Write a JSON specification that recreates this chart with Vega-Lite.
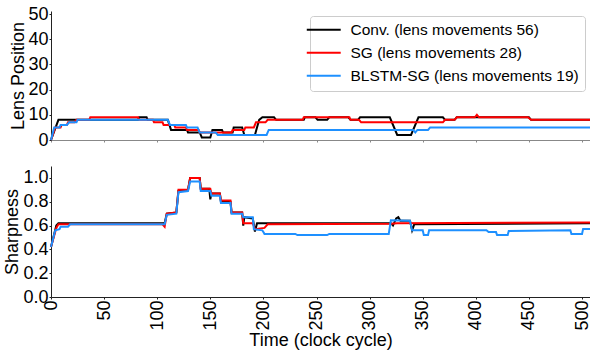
{
  "$schema": "https://vega.github.io/schema/vega-lite/v6.json",
  "padding": {"left": 3, "top": 5, "right": 0, "bottom": 0},
  "autosize": {"type": "pad"},
  "spacing": 26,
  "bounds": "flush",
  "config": {
    "view": {"stroke": null},
    "font": "Liberation Sans",
    "axis": {
      "grid": false,
      "labelFont": "Liberation Sans",
      "titleFont": "Liberation Sans",
      "labelFontSize": 18,
      "titleFontSize": 18,
      "titleFontWeight": "normal",
      "labelColor": "#000000",
      "titleColor": "#000000",
      "domainColor": "#222222",
      "tickColor": "#222222",
      "tickSize": 2,
      "labelPadding": 1
    }
  },
  "datasets": {
    "lens": [
      {"s": "Conv.", "t": 0, "v": 0}, {"s": "Conv.", "t": 7, "v": 8}, {"s": "Conv.", "t": 82, "v": 8}, {"s": "Conv.", "t": 83, "v": 9}, {"s": "Conv.", "t": 90, "v": 9}, {"s": "Conv.", "t": 91, "v": 8}, {"s": "Conv.", "t": 110, "v": 8}, {"s": "Conv.", "t": 113, "v": 4}, {"s": "Conv.", "t": 128, "v": 4}, {"s": "Conv.", "t": 129, "v": 3}, {"s": "Conv.", "t": 140, "v": 3}, {"s": "Conv.", "t": 142, "v": 1}, {"s": "Conv.", "t": 150, "v": 1}, {"s": "Conv.", "t": 152, "v": 4}, {"s": "Conv.", "t": 161, "v": 4}, {"s": "Conv.", "t": 162, "v": 3}, {"s": "Conv.", "t": 171, "v": 3}, {"s": "Conv.", "t": 172, "v": 5}, {"s": "Conv.", "t": 180, "v": 5}, {"s": "Conv.", "t": 182, "v": 2}, {"s": "Conv.", "t": 192, "v": 2}, {"s": "Conv.", "t": 196, "v": 8}, {"s": "Conv.", "t": 199, "v": 9}, {"s": "Conv.", "t": 210, "v": 9}, {"s": "Conv.", "t": 212, "v": 8}, {"s": "Conv.", "t": 238, "v": 8}, {"s": "Conv.", "t": 239, "v": 9}, {"s": "Conv.", "t": 249, "v": 9}, {"s": "Conv.", "t": 251, "v": 8}, {"s": "Conv.", "t": 260, "v": 8}, {"s": "Conv.", "t": 262, "v": 9}, {"s": "Conv.", "t": 280, "v": 9}, {"s": "Conv.", "t": 282, "v": 8}, {"s": "Conv.", "t": 289, "v": 8}, {"s": "Conv.", "t": 291, "v": 9}, {"s": "Conv.", "t": 319, "v": 9}, {"s": "Conv.", "t": 326, "v": 2}, {"s": "Conv.", "t": 339, "v": 2}, {"s": "Conv.", "t": 346, "v": 9}, {"s": "Conv.", "t": 369, "v": 9}, {"s": "Conv.", "t": 371, "v": 8}, {"s": "Conv.", "t": 380, "v": 8}, {"s": "Conv.", "t": 382, "v": 9}, {"s": "Conv.", "t": 450, "v": 9}, {"s": "Conv.", "t": 452, "v": 8}, {"s": "Conv.", "t": 507.5, "v": 8},
      {"s": "SG", "t": 0, "v": 0}, {"s": "SG", "t": 4, "v": 5}, {"s": "SG", "t": 9, "v": 5}, {"s": "SG", "t": 10, "v": 6}, {"s": "SG", "t": 15, "v": 6}, {"s": "SG", "t": 16, "v": 7}, {"s": "SG", "t": 22, "v": 7}, {"s": "SG", "t": 24, "v": 8}, {"s": "SG", "t": 36, "v": 8}, {"s": "SG", "t": 37, "v": 9}, {"s": "SG", "t": 82, "v": 9}, {"s": "SG", "t": 83, "v": 8}, {"s": "SG", "t": 96, "v": 8}, {"s": "SG", "t": 97, "v": 7}, {"s": "SG", "t": 105, "v": 7}, {"s": "SG", "t": 106, "v": 6}, {"s": "SG", "t": 116, "v": 6}, {"s": "SG", "t": 117, "v": 5}, {"s": "SG", "t": 127, "v": 5}, {"s": "SG", "t": 128, "v": 4}, {"s": "SG", "t": 139, "v": 4}, {"s": "SG", "t": 140, "v": 3}, {"s": "SG", "t": 170, "v": 3}, {"s": "SG", "t": 171, "v": 4}, {"s": "SG", "t": 182, "v": 4}, {"s": "SG", "t": 183, "v": 5}, {"s": "SG", "t": 191, "v": 5}, {"s": "SG", "t": 193, "v": 7}, {"s": "SG", "t": 202, "v": 7}, {"s": "SG", "t": 204, "v": 8}, {"s": "SG", "t": 237, "v": 8}, {"s": "SG", "t": 238, "v": 9}, {"s": "SG", "t": 281, "v": 9}, {"s": "SG", "t": 282, "v": 8}, {"s": "SG", "t": 290, "v": 8}, {"s": "SG", "t": 292, "v": 7}, {"s": "SG", "t": 369, "v": 7}, {"s": "SG", "t": 371, "v": 8}, {"s": "SG", "t": 380, "v": 8}, {"s": "SG", "t": 382, "v": 9}, {"s": "SG", "t": 399, "v": 9}, {"s": "SG", "t": 401, "v": 10}, {"s": "SG", "t": 403, "v": 9}, {"s": "SG", "t": 449, "v": 9}, {"s": "SG", "t": 452, "v": 8}, {"s": "SG", "t": 507.5, "v": 8},
      {"s": "BLSTM-SG", "t": 0, "v": 0}, {"s": "BLSTM-SG", "t": 3, "v": 5}, {"s": "BLSTM-SG", "t": 8, "v": 5}, {"s": "BLSTM-SG", "t": 9, "v": 6}, {"s": "BLSTM-SG", "t": 15, "v": 6}, {"s": "BLSTM-SG", "t": 17, "v": 7}, {"s": "BLSTM-SG", "t": 24, "v": 7}, {"s": "BLSTM-SG", "t": 25, "v": 8}, {"s": "BLSTM-SG", "t": 110, "v": 8}, {"s": "BLSTM-SG", "t": 112, "v": 6}, {"s": "BLSTM-SG", "t": 127, "v": 6}, {"s": "BLSTM-SG", "t": 128, "v": 5}, {"s": "BLSTM-SG", "t": 138, "v": 5}, {"s": "BLSTM-SG", "t": 140, "v": 3}, {"s": "BLSTM-SG", "t": 155, "v": 3}, {"s": "BLSTM-SG", "t": 157, "v": 2}, {"s": "BLSTM-SG", "t": 203, "v": 2}, {"s": "BLSTM-SG", "t": 205, "v": 4}, {"s": "BLSTM-SG", "t": 341, "v": 4}, {"s": "BLSTM-SG", "t": 343, "v": 3}, {"s": "BLSTM-SG", "t": 345, "v": 4}, {"s": "BLSTM-SG", "t": 355, "v": 4}, {"s": "BLSTM-SG", "t": 357, "v": 5}, {"s": "BLSTM-SG", "t": 507.5, "v": 5}
    ],
    "sharp": [
      {"s": "Conv.", "t": 0, "v": 0.42}, {"s": "Conv.", "t": 5, "v": 0.6}, {"s": "Conv.", "t": 7, "v": 0.62}, {"s": "Conv.", "t": 107, "v": 0.62}, {"s": "Conv.", "t": 109, "v": 0.7}, {"s": "Conv.", "t": 118, "v": 0.71}, {"s": "Conv.", "t": 120, "v": 0.89}, {"s": "Conv.", "t": 129, "v": 0.9}, {"s": "Conv.", "t": 131, "v": 1.0}, {"s": "Conv.", "t": 140, "v": 1.0}, {"s": "Conv.", "t": 141, "v": 0.91}, {"s": "Conv.", "t": 149, "v": 0.91}, {"s": "Conv.", "t": 150, "v": 0.82}, {"s": "Conv.", "t": 151, "v": 0.87}, {"s": "Conv.", "t": 159, "v": 0.87}, {"s": "Conv.", "t": 160, "v": 0.8}, {"s": "Conv.", "t": 169, "v": 0.8}, {"s": "Conv.", "t": 170, "v": 0.71}, {"s": "Conv.", "t": 180, "v": 0.71}, {"s": "Conv.", "t": 181, "v": 0.6}, {"s": "Conv.", "t": 182, "v": 0.67}, {"s": "Conv.", "t": 190, "v": 0.66}, {"s": "Conv.", "t": 192, "v": 0.55}, {"s": "Conv.", "t": 194, "v": 0.62}, {"s": "Conv.", "t": 320, "v": 0.62}, {"s": "Conv.", "t": 322, "v": 0.6}, {"s": "Conv.", "t": 325, "v": 0.66}, {"s": "Conv.", "t": 327, "v": 0.67}, {"s": "Conv.", "t": 329, "v": 0.64}, {"s": "Conv.", "t": 338, "v": 0.64}, {"s": "Conv.", "t": 340, "v": 0.56}, {"s": "Conv.", "t": 342, "v": 0.61}, {"s": "Conv.", "t": 507.5, "v": 0.62},
      {"s": "SG", "t": 0, "v": 0.42}, {"s": "SG", "t": 5, "v": 0.58}, {"s": "SG", "t": 7, "v": 0.61}, {"s": "SG", "t": 105, "v": 0.61}, {"s": "SG", "t": 107, "v": 0.59}, {"s": "SG", "t": 109, "v": 0.7}, {"s": "SG", "t": 118, "v": 0.71}, {"s": "SG", "t": 120, "v": 0.9}, {"s": "SG", "t": 129, "v": 0.9}, {"s": "SG", "t": 131, "v": 1.0}, {"s": "SG", "t": 140, "v": 1.0}, {"s": "SG", "t": 141, "v": 0.91}, {"s": "SG", "t": 150, "v": 0.91}, {"s": "SG", "t": 151, "v": 0.87}, {"s": "SG", "t": 159, "v": 0.87}, {"s": "SG", "t": 160, "v": 0.81}, {"s": "SG", "t": 169, "v": 0.81}, {"s": "SG", "t": 170, "v": 0.71}, {"s": "SG", "t": 180, "v": 0.71}, {"s": "SG", "t": 181, "v": 0.62}, {"s": "SG", "t": 190, "v": 0.62}, {"s": "SG", "t": 192, "v": 0.57}, {"s": "SG", "t": 201, "v": 0.58}, {"s": "SG", "t": 204, "v": 0.61}, {"s": "SG", "t": 320, "v": 0.615}, {"s": "SG", "t": 326, "v": 0.62}, {"s": "SG", "t": 507.5, "v": 0.625},
      {"s": "BLSTM-SG", "t": 0, "v": 0.42}, {"s": "BLSTM-SG", "t": 4, "v": 0.56}, {"s": "BLSTM-SG", "t": 8, "v": 0.57}, {"s": "BLSTM-SG", "t": 9, "v": 0.59}, {"s": "BLSTM-SG", "t": 16, "v": 0.59}, {"s": "BLSTM-SG", "t": 18, "v": 0.61}, {"s": "BLSTM-SG", "t": 107, "v": 0.61}, {"s": "BLSTM-SG", "t": 109, "v": 0.69}, {"s": "BLSTM-SG", "t": 118, "v": 0.7}, {"s": "BLSTM-SG", "t": 120, "v": 0.88}, {"s": "BLSTM-SG", "t": 129, "v": 0.89}, {"s": "BLSTM-SG", "t": 131, "v": 0.97}, {"s": "BLSTM-SG", "t": 140, "v": 0.97}, {"s": "BLSTM-SG", "t": 141, "v": 0.89}, {"s": "BLSTM-SG", "t": 150, "v": 0.89}, {"s": "BLSTM-SG", "t": 151, "v": 0.85}, {"s": "BLSTM-SG", "t": 159, "v": 0.85}, {"s": "BLSTM-SG", "t": 160, "v": 0.79}, {"s": "BLSTM-SG", "t": 169, "v": 0.79}, {"s": "BLSTM-SG", "t": 170, "v": 0.7}, {"s": "BLSTM-SG", "t": 180, "v": 0.7}, {"s": "BLSTM-SG", "t": 181, "v": 0.67}, {"s": "BLSTM-SG", "t": 190, "v": 0.67}, {"s": "BLSTM-SG", "t": 191, "v": 0.57}, {"s": "BLSTM-SG", "t": 199, "v": 0.56}, {"s": "BLSTM-SG", "t": 201, "v": 0.53}, {"s": "BLSTM-SG", "t": 230, "v": 0.53}, {"s": "BLSTM-SG", "t": 232, "v": 0.52}, {"s": "BLSTM-SG", "t": 260, "v": 0.52}, {"s": "BLSTM-SG", "t": 262, "v": 0.53}, {"s": "BLSTM-SG", "t": 318, "v": 0.53}, {"s": "BLSTM-SG", "t": 320, "v": 0.645}, {"s": "BLSTM-SG", "t": 338, "v": 0.64}, {"s": "BLSTM-SG", "t": 340, "v": 0.56}, {"s": "BLSTM-SG", "t": 350, "v": 0.56}, {"s": "BLSTM-SG", "t": 351, "v": 0.52}, {"s": "BLSTM-SG", "t": 355, "v": 0.52}, {"s": "BLSTM-SG", "t": 356, "v": 0.56}, {"s": "BLSTM-SG", "t": 410, "v": 0.56}, {"s": "BLSTM-SG", "t": 412, "v": 0.545}, {"s": "BLSTM-SG", "t": 419, "v": 0.545}, {"s": "BLSTM-SG", "t": 420, "v": 0.52}, {"s": "BLSTM-SG", "t": 430, "v": 0.52}, {"s": "BLSTM-SG", "t": 431, "v": 0.555}, {"s": "BLSTM-SG", "t": 489, "v": 0.56}, {"s": "BLSTM-SG", "t": 490, "v": 0.53}, {"s": "BLSTM-SG", "t": 500, "v": 0.53}, {"s": "BLSTM-SG", "t": 501, "v": 0.57}, {"s": "BLSTM-SG", "t": 507.5, "v": 0.57}
    ]
  },
  "resolve": {"scale": {"color": "independent"}, "legend": {"color": "independent"}},
  "vconcat": [
    {
      "width": 539,
      "height": 129,
      "data": {"name": "lens"},
      "mark": {"type": "line", "strokeWidth": 2},
      "encoding": {
        "x": {
          "field": "t", "type": "quantitative",
          "scale": {"domain": [0, 507.5], "nice": false, "zero": false},
          "axis": {"values": [0, 50, 100, 150, 200, 250, 300, 350, 400, 450, 500], "labels": false, "title": null, "domainColor": "#888888", "tickColor": "#888888"}
        },
        "y": {
          "field": "v", "type": "quantitative",
          "scale": {"domain": [0, 51.2], "nice": false},
          "axis": {"values": [0, 10, 20, 30, 40, 50], "title": "Lens Position", "titlePadding": 0}
        },
        "color": {
          "field": "s", "type": "nominal",
          "scale": {"domain": ["Conv.", "SG", "BLSTM-SG"], "range": ["#000000", "#ff0000", "#1e90ff"]},
          "legend": {
            "orient": "top-right", "offset": 5, "title": null,
            "labelExpr": "datum.label == 'Conv.' ? 'Conv. (lens movements 56)' : datum.label == 'SG' ? 'SG (lens movements 28)' : 'BLSTM-SG (lens movements 19)'",
            "symbolType": "M-4,0H4", "symbolSize": 72, "symbolStrokeWidth": 2,
            "labelFont": "Liberation Sans", "labelFontSize": 15.5, "labelColor": "#000000", "labelLimit": 400,
            "labelOffset": 19, "rowPadding": 6, "padding": 6,
            "fillColor": "rgba(255,255,255,0.85)", "strokeColor": "#cccccc", "cornerRadius": 3
          }
        }
      }
    },
    {
      "width": 539,
      "height": 131,
      "data": {"name": "sharp"},
      "mark": {"type": "line", "strokeWidth": 2},
      "encoding": {
        "x": {
          "field": "t", "type": "quantitative",
          "scale": {"domain": [0, 507.5], "nice": false, "zero": false},
          "axis": {"values": [0, 50, 100, 150, 200, 250, 300, 350, 400, 450, 500], "labelAngle": 270, "title": "Time (clock cycle)", "titlePadding": 1}
        },
        "y": {
          "field": "v", "type": "quantitative",
          "scale": {"domain": [0, 1.1], "nice": false},
          "axis": {"values": [0, 0.2, 0.4, 0.6, 0.8, 1.0], "format": ".1f", "title": "Sharpness", "titlePadding": 1}
        },
        "color": {
          "field": "s", "type": "nominal",
          "scale": {"domain": ["Conv.", "SG", "BLSTM-SG"], "range": ["#000000", "#ff0000", "#1e90ff"]},
          "legend": null
        }
      }
    }
  ]
}
